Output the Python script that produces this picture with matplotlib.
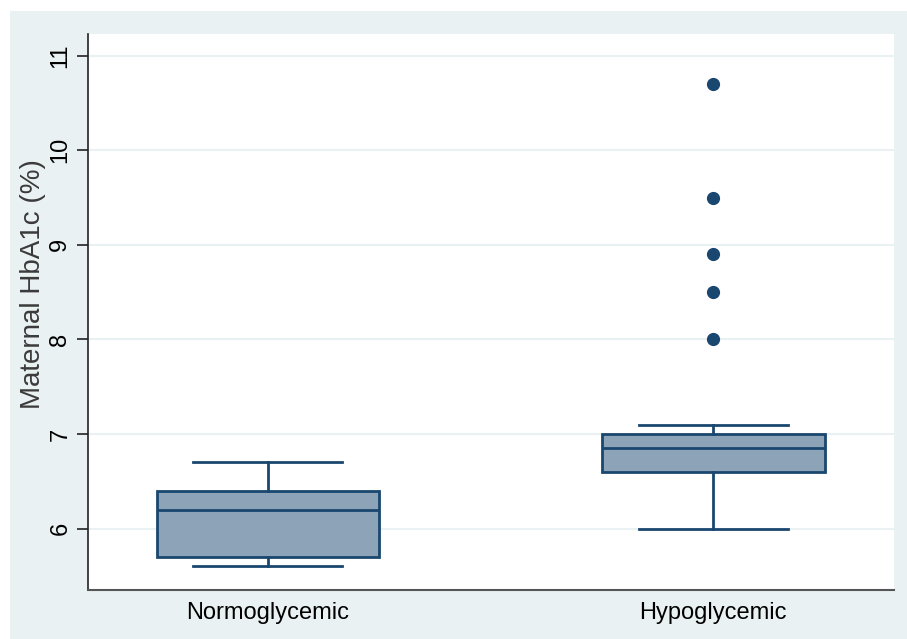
import matplotlib
matplotlib.use("Agg")
import matplotlib.pyplot as plt
from matplotlib.patches import Rectangle

plt.rcParams['font.family'] = ['Liberation Sans', 'DejaVu Sans']

# box plot summary values
groups = ["Normoglycemic", "Hypoglycemic"]
whislo = [5.6, 6.0]
q1 = [5.7, 6.6]
med = [6.2, 6.85]
q3 = [6.4, 7.0]
whishi = [6.7, 7.1]
outliers = [[], [8.0, 8.5, 8.9, 9.5, 10.7]]

navy = "#1a476f"
fill = "#8ca3b8"
bg = "#eaf1f3"

stats = []
for i, g in enumerate(groups):
    stats.append(dict(label=g, whislo=whislo[i], q1=q1[i], med=med[i],
                      q3=q3[i], whishi=whishi[i], fliers=outliers[i]))

fig = plt.figure(figsize=(9.07, 6.39), dpi=100)
fig.patches.append(Rectangle((10 / 907, 0), 1, 1 - 11 / 639, transform=fig.transFigure,
                             facecolor=bg, edgecolor="none", zorder=-1))
ax = fig.add_axes([88 / 907, 1 - 590 / 639, (894 - 88) / 907, (590 - 34) / 639])
ax.set_zorder(2)
ax.set_facecolor("white")

ax.bxp(stats, positions=[1, 2], widths=0.5, patch_artist=True,
       boxprops=dict(facecolor=fill, edgecolor=navy, linewidth=2),
       medianprops=dict(color=navy, linewidth=2),
       whiskerprops=dict(color=navy, linewidth=2),
       capprops=dict(color=navy, linewidth=2),
       capwidths=0.335,
       flierprops=dict(marker="o", markerfacecolor=navy, markeredgecolor=navy,
                       markersize=8.5, linestyle="none"),
       zorder=3)

ax.set_xlim(0.596, 2.406)
ax.set_ylim(5.35, 11.23)
ax.set_yticks([6, 7, 8, 9, 10, 11])
ax.grid(axis="y", color=bg, linewidth=1.5, zorder=0)
ax.set_axisbelow(True)

for s in ["top", "right"]:
    ax.spines[s].set_visible(False)
ax.spines["left"].set_color("#222222")
ax.spines["bottom"].set_color("#555555")
ax.spines["left"].set_linewidth(1.2)
ax.spines["bottom"].set_linewidth(1.5)

ax.tick_params(axis="y", length=8, width=1.2, color="#222222", labelsize=17,
               labelrotation=90, pad=4)
for lab in ax.get_yticklabels():
    lab.set_verticalalignment("center")
ax.tick_params(axis="x", length=0, labelsize=17, pad=9)
ax.set_xticks([1, 2])
ax.set_xticklabels(groups)

ax.set_ylabel("Maternal HbA1c (%)", fontsize=20, color="#3a3a3a")
ax.yaxis.set_label_coords(-0.052, 0.55)

fig.savefig("out.png", dpi=100)
